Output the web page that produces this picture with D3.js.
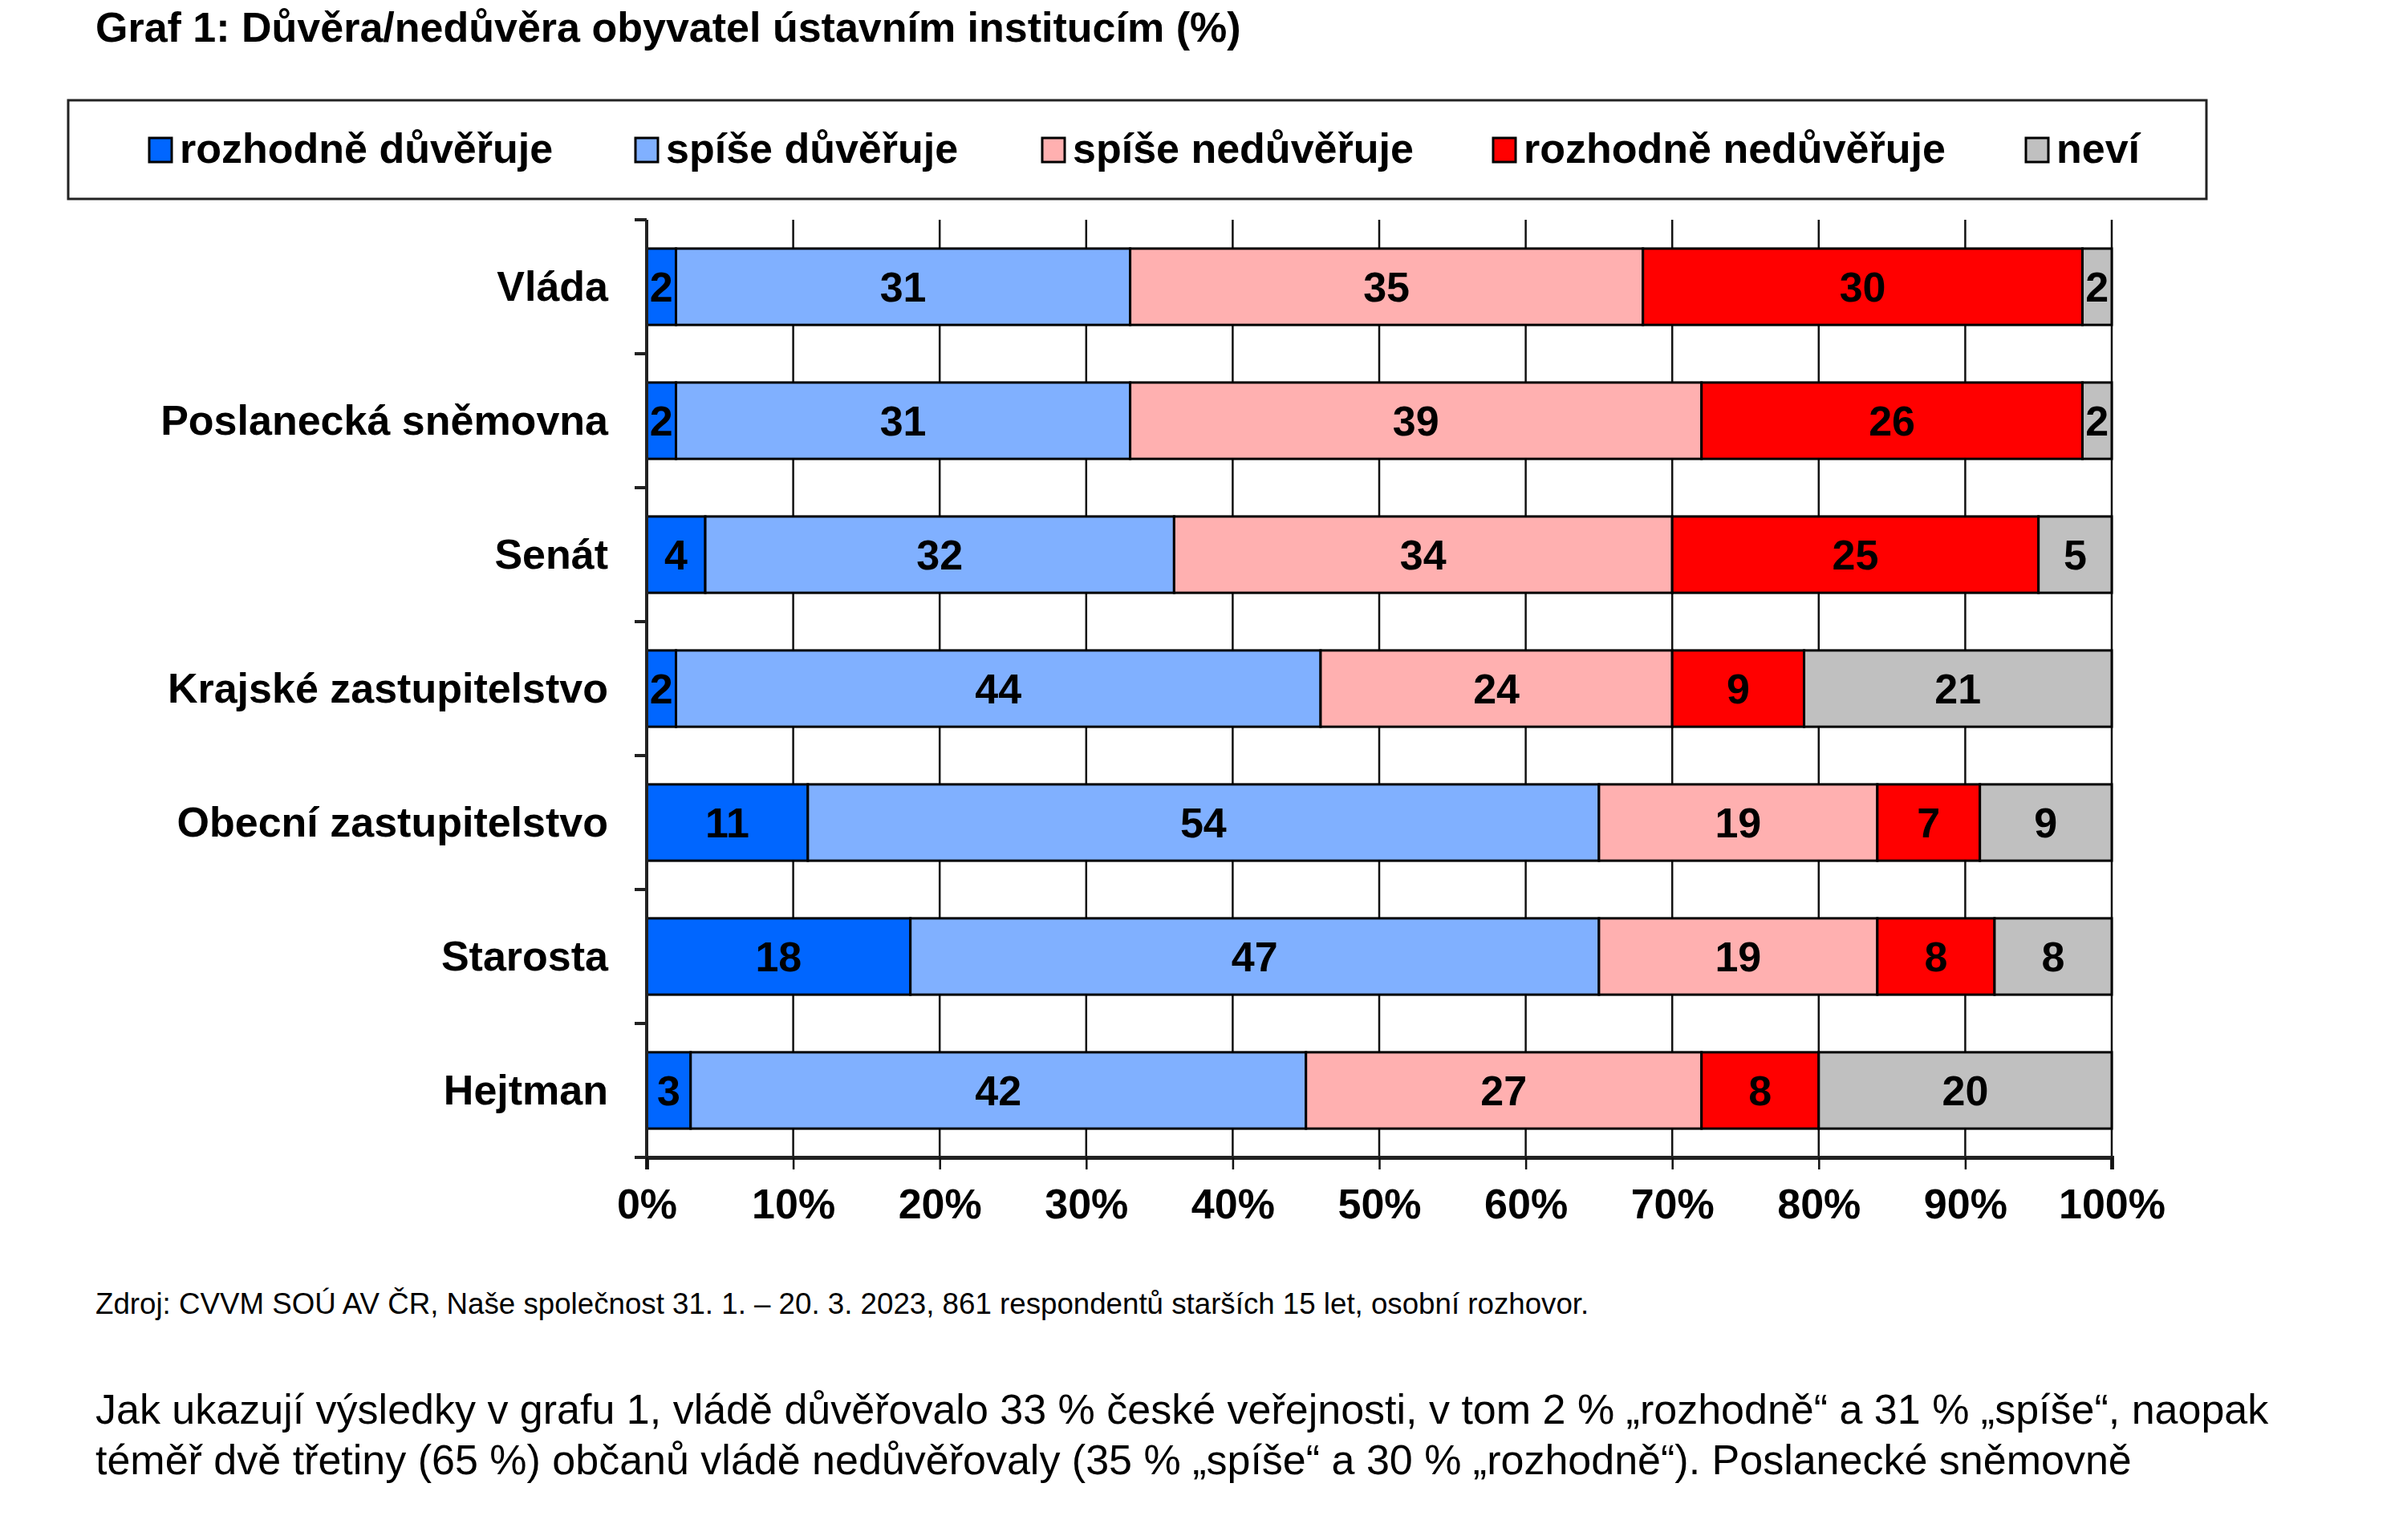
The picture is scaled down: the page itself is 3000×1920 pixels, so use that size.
<!DOCTYPE html>
<html>
<head>
<meta charset="utf-8">
<script src="https://cdn.jsdelivr.net/npm/d3@7"></script>
<style>
  body { margin: 0; background: #fff; }
  svg text { font-family: "Liberation Sans", Arial, sans-serif; }
</style>
</head>
<body>
<div id="chart"></div>
<script>
// categories, top to bottom
var institutions = ['Vláda', 'Poslanecká sněmovna', 'Senát', 'Krajské zastupitelstvo',
    'Obecní zastupitelstvo', 'Starosta', 'Hejtman'];

var seriesNames = ['rozhodně důvěřuje', 'spíše důvěřuje', 'spíše nedůvěřuje', 'rozhodně nedůvěřuje', 'neví'];
var seriesColours = ['#0066ff', '#80b0ff', '#ffb0b0', '#ff0000', '#c0c0c0'];

var rozhodneDuveruje = [2, 2, 4, 2, 11, 18, 3];
var spiseDuveruje = [31, 31, 32, 44, 54, 47, 42];
var spiseNeduveruje = [35, 39, 34, 24, 19, 19, 27];
var rozhodneNeduveruje = [30, 26, 25, 9, 7, 8, 8];
var nevi = [2, 2, 5, 21, 9, 8, 20];

var tickValues = [0, 10, 20, 30, 40, 50, 60, 70, 80, 90, 100];

var titleText = 'Graf 1: Důvěra/nedůvěra obyvatel ústavním institucím (%)';
var sourceText = 'Zdroj: CVVM SOÚ AV ČR, Naše společnost 31. 1. – 20. 3. 2023, 861 respondentů starších 15 let, osobní rozhovor.';
var paragraphLines = [
    'Jak ukazují výsledky v grafu 1, vládě důvěřovalo 33 % české veřejnosti, v tom 2 % „rozhodně“ a 31 % „spíše“, naopak',
    'téměř dvě třetiny (65 %) občanů vládě nedůvěřovaly (35 % „spíše“ a 30 % „rozhodně“). Poslanecké sněmovně'
];

// build rows for d3.stack
var allSeries = [rozhodneDuveruje, spiseDuveruje, spiseNeduveruje, rozhodneNeduveruje, nevi];
var rows = institutions.map(function (name, i) {
    var row = { name: name };
    seriesNames.forEach(function (s, j) { row[s] = allSeries[j][i]; });
    return row;
});

var width = 3000, height = 1920;
var margin = { top: 274, left: 806, right: 368, bottom: 477 };
var plotW = width - margin.left - margin.right;
var plotH = height - margin.top - margin.bottom;

var svg = d3.select('#chart')
    .append('svg')
    .attr('width', width)
    .attr('height', height);

svg.append('text')
    .attr('x', 119)
    .attr('y', 52)
    .attr('font-size', 52)
    .attr('font-weight', 'bold')
    .text(titleText);

// legend box
var legend = svg.append('g');
legend.append('rect')
    .attr('x', 85).attr('y', 125)
    .attr('width', 2665).attr('height', 123)
    .attr('fill', '#fff')
    .attr('stroke', '#222')
    .attr('stroke-width', 3);

var legendX = [186, 792, 1299, 1861, 2525];
var items = legend.selectAll('.item')
    .data(seriesNames)
    .enter()
    .append('g')
    .attr('class', 'item')
    .attr('transform', function (d, i) { return 'translate(' + legendX[i] + ',172)'; });

items.append('rect')
    .attr('width', 28).attr('height', 30)
    .attr('fill', function (d, i) { return seriesColours[i]; })
    .attr('stroke', '#000')
    .attr('stroke-width', 3);

items.append('text')
    .attr('x', 38)
    .attr('y', 31)
    .attr('font-size', 52)
    .attr('font-weight', 'bold')
    .text(function (d) { return d; });

var g = svg.append('g')
    .attr('transform', 'translate(' + margin.left + ',' + margin.top + ')');

var x_scale = d3.scaleLinear()
    .domain([0, 100])
    .range([0, plotW]);

var y_scale = d3.scaleBand()
    .domain(institutions)
    .range([0, plotH])
    .paddingInner(0.43)
    .paddingOuter(0.215);

// vertical gridlines
g.append('g')
    .selectAll('line')
    .data(tickValues)
    .enter()
    .append('line')
    .attr('x1', function (d) { return x_scale(d); })
    .attr('x2', function (d) { return x_scale(d); })
    .attr('y1', 0)
    .attr('y2', plotH)
    .attr('stroke', '#111')
    .attr('stroke-width', 2.5);

var stack = d3.stack().keys(seriesNames);
var layers = stack(rows);

var layer = g.selectAll('.layer')
    .data(layers)
    .enter()
    .append('g')
    .attr('class', 'layer')
    .attr('fill', function (d, i) { return seriesColours[i]; });

layer.selectAll('rect')
    .data(function (d) { return d; })
    .enter()
    .append('rect')
    .attr('x', function (d) { return x_scale(d[0]); })
    .attr('y', function (d) { return y_scale(d.data.name); })
    .attr('width', function (d) { return x_scale(d[1]) - x_scale(d[0]); })
    .attr('height', y_scale.bandwidth())
    .attr('stroke', '#000')
    .attr('stroke-width', 3);

layer.selectAll('.val')
    .data(function (d) { return d; })
    .enter()
    .append('text')
    .attr('class', 'val')
    .attr('x', function (d) { return x_scale((d[0] + d[1]) / 2); })
    .attr('y', function (d) { return y_scale(d.data.name) + y_scale.bandwidth() / 2; })
    .attr('dy', '0.36em')
    .attr('text-anchor', 'middle')
    .attr('font-size', 52)
    .attr('font-weight', 'bold')
    .attr('fill', '#000')
    .text(function (d) { return d[1] - d[0]; });

// left axis: line plus ticks at band boundaries
var step = y_scale.step();
var boundaries = d3.range(institutions.length + 1).map(function (i) { return i * step; });
g.append('line')
    .attr('x1', 0).attr('x2', 0)
    .attr('y1', 0).attr('y2', plotH + 15)
    .attr('stroke', '#222').attr('stroke-width', 4);
g.selectAll('.ytick')
    .data(boundaries)
    .enter()
    .append('line')
    .attr('class', 'ytick')
    .attr('x1', -15).attr('x2', 0)
    .attr('y1', function (d) { return d; })
    .attr('y2', function (d) { return d; })
    .attr('stroke', '#222').attr('stroke-width', 4);

g.selectAll('.cat')
    .data(institutions)
    .enter()
    .append('text')
    .attr('class', 'cat')
    .attr('x', -48)
    .attr('y', function (d) { return y_scale(d) + y_scale.bandwidth() / 2; })
    .attr('dy', '0.34em')
    .attr('text-anchor', 'end')
    .attr('font-size', 52)
    .attr('font-weight', 'bold')
    .text(function (d) { return d; });

// bottom axis
var x_axis = d3.axisBottom(x_scale)
    .tickValues(tickValues)
    .tickSize(15)
    .tickPadding(24)
    .tickFormat(function (d) { return d + '%'; });

var xa = g.append('g')
    .attr('transform', 'translate(0,' + plotH + ')')
    .call(x_axis);
xa.select('.domain').attr('stroke', '#222').attr('stroke-width', 5);
xa.selectAll('.tick line').attr('stroke', '#111').attr('stroke-width', 2.5);
xa.selectAll('.tick text')
    .attr('font-size', 52)
    .attr('font-weight', 'bold')
    .attr('font-family', '"Liberation Sans", Arial, sans-serif')
    .attr('fill', '#000');

svg.append('text')
    .attr('x', 119)
    .attr('y', 1638)
    .attr('font-size', 36.7)
    .text(sourceText);

svg.selectAll('.para')
    .data(paragraphLines)
    .enter()
    .append('text')
    .attr('class', 'para')
    .attr('x', 119)
    .attr('y', function (d, i) { return 1775 + i * 63; })
    .attr('font-size', 52)
    .text(function (d) { return d; });
</script>
</body>
</html>
